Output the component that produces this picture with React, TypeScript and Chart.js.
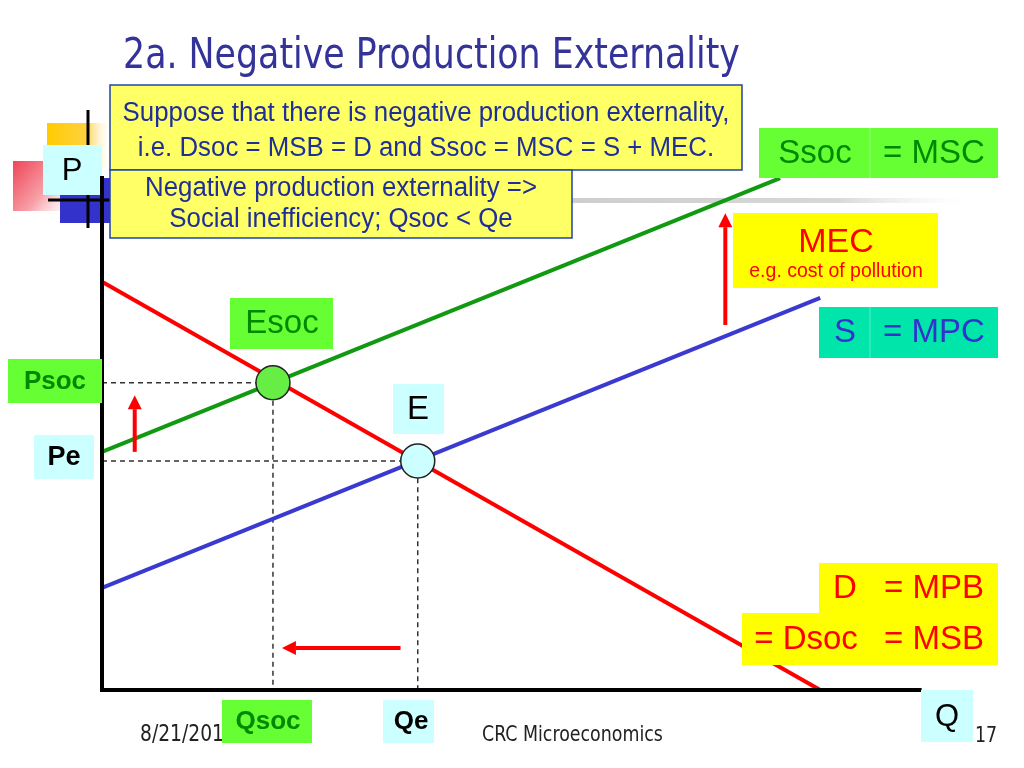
import React, { useEffect, useRef } from "react";
import { Chart, registerables } from "chart.js";

Chart.register(...registerables);

// ---- Data (economic units: quantity Q on x, price P on y) ----
const Q_MAX = 10;
const P_MAX = 10;
const AXIS_TOP_P = 9.52;
const AXIS_END_Q = 10.02;

const demandQ = [0, 8.78];
const demandP = [7.56, 0];
const ssocQ = [0, 8.29];
const ssocP = [4.41, 9.48];
const supplyQ = [0, 8.78];
const supplyP = [1.89, 7.26];

// equilibria: [Esoc, E]
const eqNames = ["Esoc", "E"];
const eqQ = [2.09, 3.86];
const eqP = [5.69, 4.24];

// arrows: [Pe->Psoc shift, MEC, Qe->Qsoc]
const arrowFromQ = [0.4, 7.62, 3.65];
const arrowFromP = [4.41, 6.76, 0.78];
const arrowToQ = [0.4, 7.62, 2.2];
const arrowToP = [5.46, 8.83, 0.78];

const TITLE = "2a. Negative Production Externality";
const BOX1 = ["Suppose that there is negative production externality,", "i.e. Dsoc = MSB = D and Ssoc = MSC = S + MEC."];
const BOX2 = ["Negative production externality =>", "Social inefficiency; Qsoc < Qe"];
const FOOT_DATE = "8/21/2015";
const FOOT_MID = "CRC Microeconomics";
const FOOT_PAGE = "17";

const ARIAL = '"Liberation Sans", Arial, sans-serif';
const NARROW = '"DejaVu Sans Condensed", "DejaVu Sans", sans-serif';

const pts = (xs: number[], ys: number[]) => xs.map((x, i) => ({ x, y: ys[i] }));

function fitFont(ctx: CanvasRenderingContext2D, text: string, family: string, weight: string, size: number, width: number) {
  ctx.font = `${weight} ${size}px ${family}`;
  const w = ctx.measureText(text).width;
  const s = (size * width) / w;
  return `${weight} ${s.toFixed(2)}px ${family}`;
}

function stretchText(ctx: CanvasRenderingContext2D, s: string, x: number, y: number, sy: number) {
  ctx.save();
  ctx.translate(x, y);
  ctx.scale(1, sy);
  ctx.fillText(s, 0, 0);
  ctx.restore();
}

const slidePlugin = {
  id: "slide",
  beforeDatasetsDraw(chart: any) {
    const ctx: CanvasRenderingContext2D = chart.ctx;
    ctx.save();
    // gray rule
    let g = ctx.createLinearGradient(100, 0, 965, 0);
    g.addColorStop(0, "rgba(190,190,190,1)");
    g.addColorStop(0.85, "rgba(215,215,215,1)");
    g.addColorStop(1, "rgba(240,240,240,0)");
    ctx.fillStyle = g;
    ctx.fillRect(100, 198, 865, 5);
    // orange square
    g = ctx.createLinearGradient(47, 0, 112, 0);
    g.addColorStop(0, "#FFCC00");
    g.addColorStop(0.6, "#FFD040");
    g.addColorStop(1, "rgba(255,255,255,0)");
    ctx.fillStyle = g;
    ctx.fillRect(47, 123, 65, 45);
    // pink square
    g = ctx.createLinearGradient(13, 160, 80, 215);
    g.addColorStop(0, "#EE4455");
    g.addColorStop(0.5, "#F7A0A8");
    g.addColorStop(1, "rgba(255,255,255,0)");
    ctx.fillStyle = g;
    ctx.fillRect(13, 161, 65, 50);
    // blue square
    ctx.fillStyle = "#3333CC";
    ctx.fillRect(60, 178, 52, 45);
    // black cross lines
    ctx.strokeStyle = "#000";
    ctx.lineWidth = 3;
    ctx.beginPath();
    ctx.moveTo(88, 110);
    ctx.lineTo(88, 228);
    ctx.moveTo(48, 200);
    ctx.lineTo(112, 200);
    ctx.stroke();
    // P box
    ctx.fillStyle = "#CCFFFF";
    ctx.fillRect(43, 145, 59, 50);
    ctx.fillStyle = "#000";
    ctx.font = `31px ${ARIAL}`;
    ctx.textAlign = "center";
    ctx.textBaseline = "middle";
    ctx.fillText("P", 72, 171);
    ctx.restore();
  },
  afterDatasetsDraw(chart: any) {
    const ctx: CanvasRenderingContext2D = chart.ctx;
    const xs = chart.scales.x;
    const ys = chart.scales.y;
    ctx.save();
    ctx.textAlign = "center";
    ctx.textBaseline = "middle";

    // arrows
    ctx.strokeStyle = "#FF0000";
    ctx.fillStyle = "#FF0000";
    for (let i = 0; i < arrowFromQ.length; i++) {
      const x0 = xs.getPixelForValue(arrowFromQ[i]);
      const y0 = ys.getPixelForValue(arrowFromP[i]);
      const x1 = xs.getPixelForValue(arrowToQ[i]);
      const y1 = ys.getPixelForValue(arrowToP[i]);
      const ang = Math.atan2(y1 - y0, x1 - x0);
      const hl = 14, hw = 7;
      const bx = x1 - hl * Math.cos(ang);
      const by = y1 - hl * Math.sin(ang);
      ctx.lineWidth = 4;
      ctx.beginPath();
      ctx.moveTo(x0, y0);
      ctx.lineTo(bx, by);
      ctx.stroke();
      ctx.beginPath();
      ctx.moveTo(x1, y1);
      ctx.lineTo(bx + hw * Math.sin(ang), by - hw * Math.cos(ang));
      ctx.lineTo(bx - hw * Math.sin(ang), by + hw * Math.cos(ang));
      ctx.closePath();
      ctx.fill();
    }

    const box = (x: number, y: number, w: number, h: number, fill: string) => {
      ctx.fillStyle = fill;
      ctx.fillRect(x, y, w, h);
    };
    const txt = (s: string, x: number, y: number, font: string, color: string) => {
      ctx.font = font;
      ctx.fillStyle = color;
      ctx.fillText(s, x, y);
    };
    const divider = (x: number, y: number, h: number) => {
      ctx.strokeStyle = "rgba(255,255,255,0.35)";
      ctx.lineWidth = 1;
      ctx.beginPath();
      ctx.moveTo(x, y);
      ctx.lineTo(x, y + h);
      ctx.stroke();
    };
    const GREEN = "#66FF33";
    const DKGREEN = "#008800";
    const CYAN = "#CCFFFF";
    const YEL = "#FFFF00";
    const TEAL = "#00E6AA";
    const BLUE = "#3333CC";
    const RED = "#FF0000";

    // footer (date partly hidden behind the Qsoc box)
    ctx.textAlign = "left";
    ctx.fillStyle = "#222";
    ctx.font = fitFont(ctx, FOOT_DATE, NARROW, "", 17, 96);
    stretchText(ctx, FOOT_DATE, 140, 735, 1.1);
    ctx.font = fitFont(ctx, FOOT_MID, NARROW, "", 17, 181);
    stretchText(ctx, FOOT_MID, 482, 735, 1.1);
    stretchText(ctx, FOOT_PAGE, 975, 736, 1.1);
    ctx.textAlign = "center";

    // price / quantity labels
    box(8, 359, 94, 44, GREEN);
    txt("Psoc", 55, 382, `bold 26px ${ARIAL}`, DKGREEN);
    box(34, 435, 60, 44, CYAN);
    txt("Pe", 64, 458, `bold 27px ${ARIAL}`, "#000");
    box(222, 700, 90, 43, GREEN);
    txt("Qsoc", 268, 722, `bold 26px ${ARIAL}`, DKGREEN);
    box(383, 700, 51, 43, CYAN);
    txt("Qe", 411, 722, `bold 26px ${ARIAL}`, "#000");
    box(921, 690, 52, 52, CYAN);
    txt("Q", 947, 717, `31px ${ARIAL}`, "#000");

    // equilibrium labels
    box(230, 298, 103, 51, GREEN);
    txt(eqNames[0], 282, 324, `33px ${ARIAL}`, DKGREEN);
    box(393, 384, 51, 50, CYAN);
    txt(eqNames[1], 418, 410, `33px ${ARIAL}`, "#000");

    // curve labels
    box(759, 128, 239, 50, GREEN);
    divider(870, 128, 50);
    txt("Ssoc", 815, 154, `33px ${ARIAL}`, DKGREEN);
    txt("= MSC", 934, 154, `33px ${ARIAL}`, DKGREEN);
    box(733, 213, 205, 75, YEL);
    txt("MEC", 836, 243, `34px ${ARIAL}`, RED);
    txt("e.g. cost of pollution", 836, 272, `19.5px ${ARIAL}`, RED);
    box(819, 307, 179, 51, TEAL);
    divider(870, 307, 51);
    txt("S", 845, 333, `33px ${ARIAL}`, BLUE);
    txt("= MPC", 934, 333, `33px ${ARIAL}`, BLUE);
    box(819, 563, 179, 51, YEL);
    box(742, 613, 256, 52, YEL);
    txt("D", 845, 589, `33px ${ARIAL}`, RED);
    txt("= MPB", 934, 589, `33px ${ARIAL}`, RED);
    txt("= Dsoc", 806, 640, `33px ${ARIAL}`, RED);
    txt("= MSB", 934, 640, `33px ${ARIAL}`, RED);

    // text boxes
    const TB = "#1F2F99";
    ctx.lineWidth = 1.5;
    ctx.strokeStyle = "#2244AA";
    box(110, 85, 632, 85, "#FFFF66");
    ctx.strokeRect(110, 85, 632, 85);
    box(110, 170, 462, 68, "#FFFF66");
    ctx.strokeRect(110, 170, 462, 68);
    ctx.font = fitFont(ctx, BOX1[0], ARIAL, "", 22, 607);
    ctx.fillStyle = TB;
    stretchText(ctx, BOX1[0], 426, 113, 1.1);
    stretchText(ctx, BOX1[1], 426, 148, 1.1);
    stretchText(ctx, BOX2[0], 341, 188, 1.1);
    stretchText(ctx, BOX2[1], 341, 219, 1.1);

    // title
    ctx.textAlign = "left";
    ctx.textBaseline = "alphabetic";
    ctx.font = fitFont(ctx, TITLE, NARROW, "", 38, 617);
    ctx.fillStyle = "#333399";
    stretchText(ctx, TITLE, 123, 68, 1.08);
    ctx.restore();
  },
};

export default function App() {
  const ref = useRef<HTMLCanvasElement | null>(null);
  useEffect(() => {
    if (!ref.current) return;
    const common = { pointRadius: 0, showLine: true, fill: false, clip: false as any, tension: 0 };
    const chart = new Chart(ref.current, {
      type: "scatter",
      data: {
        datasets: [
          {
            label: "Equilibria",
            data: pts(eqQ, eqP),
            pointRadius: 17,
            pointBackgroundColor: ["#66EE44", "#CCFFFF"],
            pointBorderColor: "#222",
            pointBorderWidth: 1.5,
            showLine: false,
            clip: false as any,
            order: 0,
          },
          { ...common, label: "D = MPB = MSB", data: pts(demandQ, demandP), borderColor: "#FF0000", borderWidth: 4, order: 1 },
          { ...common, label: "Ssoc = MSC", data: pts(ssocQ, ssocP), borderColor: "#119911", borderWidth: 4, order: 1 },
          { ...common, label: "S = MPC", data: pts(supplyQ, supplyP), borderColor: "#3A3AD0", borderWidth: 4, order: 1 },
          {
            ...common,
            label: "Psoc/Qsoc",
            data: [{ x: 0, y: eqP[0] }, { x: eqQ[0], y: eqP[0] }, { x: eqQ[0], y: 0 }],
            borderColor: "#333",
            borderWidth: 1.5,
            borderDash: [5, 4],
            order: 2,
          },
          {
            ...common,
            label: "Pe/Qe",
            data: [{ x: 0, y: eqP[1] }, { x: eqQ[1], y: eqP[1] }, { x: eqQ[1], y: 0 }],
            borderColor: "#333",
            borderWidth: 1.5,
            borderDash: [5, 4],
            order: 2,
          },
          {
            ...common,
            label: "Axes",
            data: [{ x: 0, y: AXIS_TOP_P }, { x: 0, y: 0 }, { x: AXIS_END_Q, y: 0 }],
            borderColor: "#000",
            borderWidth: 4,
            borderJoinStyle: "miter",
            order: 0,
          },
        ],
      },
      options: {
        responsive: false,
        animation: false,
        devicePixelRatio: 1,
        layout: { padding: { left: 102, right: 104, top: 150, bottom: 78 } },
        plugins: { legend: { display: false }, tooltip: { enabled: false }, title: { display: false } },
        scales: {
          x: { type: "linear", min: 0, max: Q_MAX, display: false },
          y: { type: "linear", min: 0, max: P_MAX, display: false },
        },
      },
      plugins: [slidePlugin],
    });
    return () => chart.destroy();
  }, []);
  return (
    <div style={{ position: "absolute", left: 0, top: 0, width: 1024, height: 768, background: "#fff" }}>
      <canvas ref={ref} width={1024} height={768} />
    </div>
  );
}
